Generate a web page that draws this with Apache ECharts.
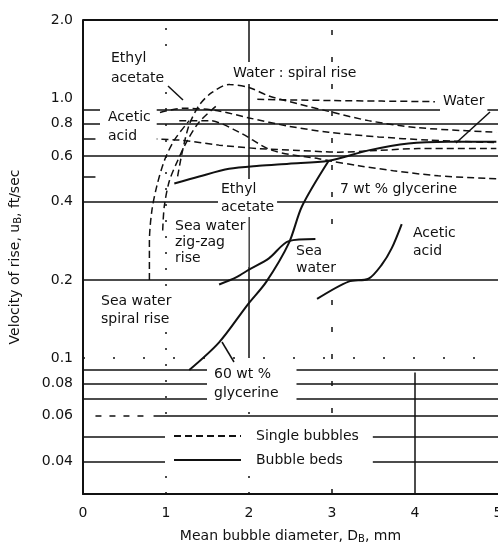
<!DOCTYPE html>
<html>
<head>
<meta charset="utf-8">
<script src="https://cdn.jsdelivr.net/npm/echarts@6/dist/echarts.min.js"></script>
<style>
html, body { margin: 0; padding: 0; background: #fff; }
#chart { width: 498px; height: 544px; }
</style>
</head>
<body>
<div id="chart"></div>
<script>
// axis ticks
const xTicks = [0, 1, 2, 3, 4, 5];
const yTickValues = [0.04, 0.06, 0.08, 0.1, 0.2, 0.4, 0.6, 0.8, 1.0, 2.0];
const yTickLabels = ['0.04', '0.06', '0.08', '0.1', '0.2', '0.4', '0.6', '0.8', '1.0', '2.0'];

// single bubbles (dashed) - diameter mm / velocity ft/sec
const waterSpiralD = [1.14, 1.20, 1.28, 1.40, 1.55, 1.76, 2.0, 2.24, 2.60, 2.96, 3.44, 4.04, 4.98];
const waterSpiralV = [0.50, 0.63, 0.79, 0.94, 1.05, 1.13, 1.10, 1.02, 0.95, 0.89, 0.82, 0.77, 0.74];
const waterD = [2.1, 3.0, 3.6, 4.24];
const waterV = [0.99, 0.98, 0.975, 0.97];
const seaSpiralD = [0.80, 0.80, 0.83, 0.89, 0.98, 1.10, 1.28];
const seaSpiralV = [0.20, 0.28, 0.37, 0.46, 0.575, 0.69, 0.82];
const seaZigzagD = [0.96, 0.98, 1.04, 1.14, 1.26, 1.40, 1.60];
const seaZigzagV = [0.31, 0.385, 0.48, 0.575, 0.69, 0.81, 0.93];
const aceticSingleD = [0.68, 1.16, 1.64, 2.12, 2.60, 3.08, 3.56, 4.04, 4.98];
const aceticSingleV = [0.70, 0.69, 0.66, 0.64, 0.63, 0.62, 0.63, 0.64, 0.64];
const ethylSingleD = [0.80, 1.22, 1.58, 2.0, 2.48, 2.96, 3.56, 4.16, 4.98];
const ethylSingleV = [0.86, 0.915, 0.90, 0.84, 0.78, 0.74, 0.71, 0.69, 0.675];
const glyc7D = [1.16, 1.52, 1.88, 2.28, 2.84, 2.96, 3.32, 3.74, 4.28, 4.98];
const glyc7V = [0.82, 0.82, 0.74, 0.63, 0.585, 0.575, 0.55, 0.526, 0.503, 0.49];

// bubble beds (solid)
const glyc60D = [1.28, 1.64, 1.98, 2.21, 2.48, 2.64, 2.96];
const glyc60V = [0.09, 0.115, 0.16, 0.197, 0.277, 0.385, 0.575];
const seaBedD = [1.64, 1.85, 2.0, 2.24, 2.48, 2.8];
const seaBedV = [0.192, 0.205, 0.219, 0.242, 0.282, 0.287];
const aceticBedD = [2.82, 3.2, 3.44, 3.6, 3.72, 3.84];
const aceticBedV = [0.169, 0.197, 0.202, 0.229, 0.265, 0.328];
const ethylBedD = [1.10, 1.40, 1.76, 2.12, 2.48, 2.96, 3.44, 3.92, 4.4, 4.98];
const ethylBedV = [0.47, 0.50, 0.535, 0.55, 0.56, 0.575, 0.63, 0.67, 0.68, 0.68];

const INK = '#111';
const FONT = '14px "DejaVu Sans", sans-serif';

function zip(xs, ys) {
  return xs.map((x, i) => [x, ys[i]]);
}

function curve(name, xs, ys, bed) {
  return {
    name: name,
    type: 'line',
    data: zip(xs, ys),
    smooth: 0.3,
    symbol: 'none',
    silent: true,
    lineStyle: bed ? { color: INK, width: 2 } : { color: INK, width: 1.5, type: [7, 4] },
    z: 3
  };
}

// 网格线（手绘风格，不同线型）
const solidGrid = { color: INK, width: 1.5, type: 'solid' };
const dotGrid = { color: INK, width: 1.5, type: [2, 14] };
const gridLines = [
  { yAxis: 2.0, lineStyle: { color: INK, width: 2, type: 'solid' } },
  { yAxis: 0.9, lineStyle: solidGrid },
  { yAxis: 0.8, lineStyle: solidGrid },
  { yAxis: 0.6, lineStyle: solidGrid },
  { yAxis: 0.4, lineStyle: solidGrid },
  { yAxis: 0.2, lineStyle: solidGrid },
  { yAxis: 0.1, lineStyle: { color: INK, width: 1.5, type: [2, 28] } },
  { yAxis: 0.09, lineStyle: solidGrid },
  { yAxis: 0.08, lineStyle: solidGrid },
  { yAxis: 0.07, lineStyle: solidGrid },
  { yAxis: 0.05, lineStyle: solidGrid },
  { yAxis: 0.04, lineStyle: solidGrid },
  [{ coord: [0, 0.7], lineStyle: solidGrid }, { coord: [0.15, 0.7] }],
  [{ coord: [0, 0.5], lineStyle: solidGrid }, { coord: [0.15, 0.5] }],
  [{ coord: [0.15, 0.06], lineStyle: { color: INK, width: 1.5, type: [6, 8] } }, { coord: [0.75, 0.06] }],
  [{ coord: [0.85, 0.06], lineStyle: solidGrid }, { coord: [5, 0.06] }],
  { xAxis: 1, lineStyle: dotGrid },
  [{ coord: [2, 0.1], lineStyle: solidGrid }, { coord: [2, 2.0] }],
  [{ coord: [2, 0.03], lineStyle: dotGrid }, { coord: [2, 0.1] }],
  { xAxis: 3, lineStyle: { color: INK, width: 1.5, type: [5, 22] } },
  [{ coord: [4, 0.03], lineStyle: solidGrid }, { coord: [4, 0.088] }]
];

// 图中注释文字
const notes = [
  { text: 'Ethyl\nacetate', x: 108, y: 47, lh: 20, pad: [1, 3, 1, 3] },
  { text: 'Water : spiral rise', x: 230, y: 62, lh: 20, pad: [1, 3, 1, 3] },
  { text: 'Water', x: 440, y: 91, lh: 18, pad: [1, 3, 1, 3] },
  { text: 'Acetic\nacid', x: 100, y: 107, lh: 19, pad: [1, 6, 1, 8] },
  { text: 'Ethyl\nacetate', x: 218, y: 179, lh: 18, pad: [1, 3, 1, 3] },
  { text: '7 wt % glycerine', x: 337, y: 179, lh: 18, pad: [1, 3, 1, 3] },
  { text: 'Sea water\nzig-zag\nrise', x: 172, y: 217, lh: 16, pad: [1, 3, 1, 3] },
  { text: 'Sea\nwater', x: 293, y: 242, lh: 17, pad: [1, 3, 1, 3] },
  { text: 'Acetic\nacid', x: 410, y: 223, lh: 18, pad: [1, 3, 1, 3] },
  { text: 'Sea water\nspiral rise', x: 98, y: 291, lh: 18, pad: [1, 3, 1, 3] },
  { text: '60 wt %\nglycerine', x: 207, y: 364, lh: 19, pad: [1, 18, 1, 7] }
];
const pointers = [
  [168, 86, 183, 100],
  [222, 342, 234, 362],
  [490, 112, 456, 143]
];

const graphics = notes.map(n => ({
  type: 'text',
  x: n.x,
  y: n.y,
  z: 100,
  silent: true,
  style: {
    text: n.text,
    font: FONT,
    fill: INK,
    lineHeight: n.lh,
    backgroundColor: '#fff',
    padding: n.pad
  }
})).concat(pointers.map(p => ({
  type: 'line',
  z: 100,
  silent: true,
  shape: { x1: p[0], y1: p[1], x2: p[2], y2: p[3] },
  style: { stroke: INK, lineWidth: 1.5 }
})));

const chart = echarts.init(document.getElementById('chart'), null, { renderer: 'canvas' });

const option = {
  backgroundColor: '#fff',
  animation: false,
  textStyle: { fontFamily: '"DejaVu Sans", sans-serif', color: INK },
  grid: { left: 83, right: 0, top: 20, bottom: 50, outerBoundsMode: 'none', containLabel: false },
  legend: {
    data: ['Single bubbles', 'Bubble beds'],
    orient: 'vertical',
    left: 165,
    top: 425,
    itemWidth: 67,
    itemHeight: 14,
    itemGap: 10,
    padding: [4, 14, 4, 8],
    backgroundColor: '#fff',
    selectedMode: false,
    itemStyle: { opacity: 0 },
    textStyle: { fontSize: 14, color: INK, padding: [0, 0, 0, 10] },
    z: 50
  },
  xAxis: {
    type: 'value',
    min: 0,
    max: 5,
    interval: 1,
    axisLine: { lineStyle: { color: INK, width: 2 } },
    axisTick: { show: false },
    splitLine: { show: false },
    axisLabel: { fontSize: 14, color: INK, margin: 12, formatter: v => String(xTicks[v] !== undefined ? xTicks[v] : v) },
    name: '{a|Mean bubble diameter, D}{b|B}{a|, mm}',
    nameLocation: 'middle',
    nameGap: 34,
    nameTextStyle: {
      rich: {
        a: { fontSize: 14, color: INK },
        b: { fontSize: 10, color: INK, padding: [6, 0, 0, 0] }
      }
    }
  },
  yAxis: {
    type: 'log',
    logBase: 10,
    min: 0.03,
    max: 2.0,
    axisLine: { lineStyle: { color: INK, width: 2 } },
    axisTick: { show: false },
    splitLine: { show: false },
    minorSplitLine: { show: false },
    axisLabel: {
      fontSize: 14,
      color: INK,
      margin: 10,
      customValues: yTickValues,
      formatter: function (v) {
        const i = yTickValues.findIndex(t => Math.abs(t - v) < 1e-6);
        return i >= 0 ? yTickLabels[i] : '';
      }
    },
    name: '{a|Velocity of rise, u}{b|B}{a|, ft/sec}',
    nameLocation: 'middle',
    nameGap: 60,
    nameRotate: 90,
    nameTextStyle: {
      rich: {
        a: { fontSize: 14, color: INK },
        b: { fontSize: 10, color: INK, padding: [6, 0, 0, 0] }
      }
    }
  },
  graphic: graphics,
  series: [
    {
      name: 'gridlines',
      type: 'line',
      data: [],
      silent: true,
      z: 1,
      markLine: {
        silent: true,
        symbol: 'none',
        label: { show: false },
        animation: false,
        data: gridLines
      }
    },
    { name: 'Single bubbles', type: 'line', data: [], symbol: 'none', lineStyle: { color: INK, width: 1.5, type: [7, 4] }, itemStyle: { color: INK } },
    { name: 'Bubble beds', type: 'line', data: [], symbol: 'none', lineStyle: { color: INK, width: 2.5 }, itemStyle: { color: INK } },
    curve('Water: spiral rise', waterSpiralD, waterSpiralV, false),
    curve('Water', waterD, waterV, false),
    curve('Sea water spiral rise', seaSpiralD, seaSpiralV, false),
    curve('Sea water zig-zag rise', seaZigzagD, seaZigzagV, false),
    curve('Acetic acid (single)', aceticSingleD, aceticSingleV, false),
    curve('Ethyl acetate (single)', ethylSingleD, ethylSingleV, false),
    curve('7 wt % glycerine', glyc7D, glyc7V, false),
    curve('60 wt % glycerine', glyc60D, glyc60V, true),
    curve('Sea water (beds)', seaBedD, seaBedV, true),
    curve('Acetic acid (beds)', aceticBedD, aceticBedV, true),
    curve('Ethyl acetate (beds)', ethylBedD, ethylBedV, true)
  ]
};

chart.setOption(option);
</script>
</body>
</html>
